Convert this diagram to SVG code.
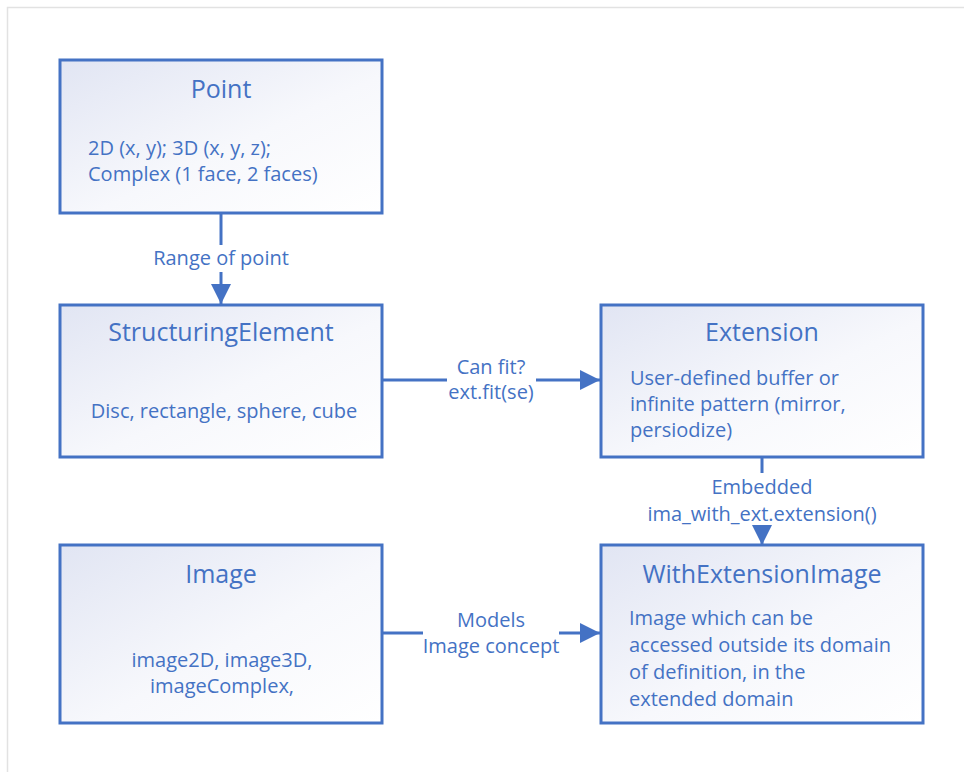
<svg xmlns="http://www.w3.org/2000/svg" width="964" height="772" viewBox="0 0 964 772">
  <defs>
    <linearGradient id="boxFill" x1="0" y1="0" x2="1" y2="1">
      <stop offset="0" stop-color="#e1e5f3"/>
      <stop offset="0.55" stop-color="#f7f8fc"/>
      <stop offset="1" stop-color="#ffffff"/>
    </linearGradient>
    <marker id="arrow" viewBox="0 0 20 20" refX="20" refY="10" markerUnits="userSpaceOnUse" markerWidth="20" markerHeight="20" orient="auto">
      <path d="M0,0 L20,10 L0,20 Z" fill="#4472c4"/>
    </marker>
    <style>
      .box { fill: url(#boxFill); stroke: #4472c4; stroke-width: 3; }
      .link { fill: none; stroke: #4472c4; stroke-width: 3; }
      text { font-family: "Open Sans", "Noto Sans", "Liberation Sans", sans-serif; fill: #4472c4; }
      .title { font-size: 25px; text-anchor: middle; }
      .body { font-size: 20px; }
      .mid { text-anchor: middle; }
      .label { font-size: 20px; text-anchor: middle; }
    </style>
  </defs>

  <rect width="964" height="772" fill="#ffffff"/>
  <!-- page frame -->
  <path d="M7.5,780 V7.5 H970" fill="none" stroke="#e2e2e2" stroke-width="1.5"/>

  <g id="point">
    <rect class="box" x="60" y="60" width="322" height="153"/>
    <text class="title" x="221" y="98">Point</text>
    <text class="body" x="88" y="155">2D (x, y); 3D (x, y, z);</text>
    <text class="body" x="88" y="181">Complex (1 face, 2 faces)</text>
  </g>

  <g id="structuring-element">
    <rect class="box" x="60" y="305" width="322" height="152"/>
    <text class="title" x="221" y="341">StructuringElement</text>
    <text class="body mid" x="224" y="418">Disc, rectangle, sphere, cube</text>
  </g>

  <g id="extension">
    <rect class="box" x="601" y="305" width="322" height="152"/>
    <text class="title" x="762" y="341">Extension</text>
    <text class="body" x="630" y="385">User-defined buffer or</text>
    <text class="body" x="630" y="411">infinite pattern (mirror,</text>
    <text class="body" x="630" y="437">persiodize)</text>
  </g>

  <g id="image">
    <rect class="box" x="60" y="545" width="322" height="178"/>
    <text class="title" x="221" y="583">Image</text>
    <text class="body mid" x="222" y="667">image2D, image3D,</text>
    <text class="body mid" x="222" y="693">imageComplex,</text>
  </g>

  <g id="with-extension-image">
    <rect class="box" x="601" y="545" width="322" height="178"/>
    <text class="title" x="762" y="583">WithExtensionImage</text>
    <text class="body" x="629" y="625">Image which can be</text>
    <text class="body" x="629" y="652">accessed outside its domain</text>
    <text class="body" x="629" y="679">of definition, in the</text>
    <text class="body" x="629" y="706">extended domain</text>
  </g>

  <g id="connectors">
    <!-- Point to StructuringElement -->
    <path class="link" d="M221,213 V245"/>
    <path class="link" d="M221,272 V304" marker-end="url(#arrow)"/>
    <text class="label" x="221" y="265">Range of point</text>

    <!-- StructuringElement to Extension -->
    <path class="link" d="M382,380 H447"/>
    <path class="link" d="M536,380 H600" marker-end="url(#arrow)"/>
    <text class="label" x="491" y="374">Can fit?</text>
    <text class="label" x="491" y="399">ext.fit(se)</text>

    <!-- Extension to WithExtensionImage -->
    <path class="link" d="M762,457 V473"/>
    <path class="link" d="M762,527 V545" marker-end="url(#arrow)"/>
    <text class="label" x="762" y="494">Embedded</text>
    <text class="label" x="762" y="521">ima_with_ext.extension()</text>

    <!-- Image to WithExtensionImage -->
    <path class="link" d="M382,633 H423"/>
    <path class="link" d="M559,633 H600" marker-end="url(#arrow)"/>
    <text class="label" x="491" y="627">Models</text>
    <text class="label" x="491" y="653">Image concept</text>
  </g>
</svg>
